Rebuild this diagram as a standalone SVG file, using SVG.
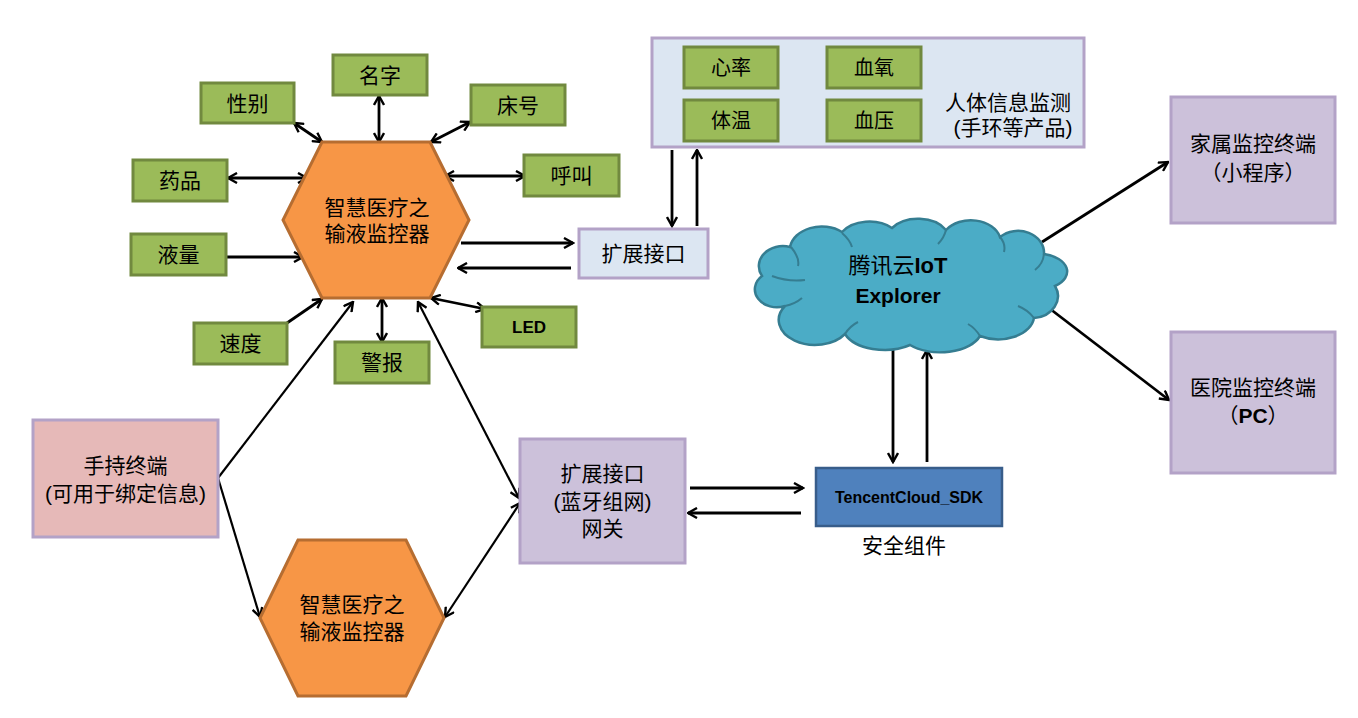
<svg xmlns="http://www.w3.org/2000/svg" width="1358" height="718" viewBox="0 0 1358 718">
<style>
text{font-family:"Liberation Sans","Noto Sans CJK SC",sans-serif;font-size:21px;fill:#000;text-anchor:middle}
.b{font-weight:bold}
.g{fill:#9BBB59;stroke:#71893F;stroke-width:3}
.hex{fill:#F79646;stroke:#B66D31;stroke-width:3}
.lb{fill:#DCE6F2;stroke:#B3A2C7;stroke-width:3}
.pu{fill:#CCC1DA;stroke:#B3A2C7;stroke-width:3}
.pk{fill:#E6B9B8;stroke:#B3A2C7;stroke-width:3}
.sdk{fill:#4F81BD;stroke:#385D8A;stroke-width:2.5}
.cl{fill:#4BACC6;stroke:#357D91;stroke-width:2.5}
.c{fill:none;stroke:#000;stroke-width:2.8}
.t{stroke-width:2.2}
</style>
<defs>
<marker id="ah" viewBox="0 0 12 12" refX="10.5" refY="6" markerWidth="12" markerHeight="12" markerUnits="userSpaceOnUse" orient="auto-start-reverse">
<path d="M1.5,1 L10.5,6 L1.5,11" fill="none" stroke="#000" stroke-width="2.4"/>
</marker>
</defs>

<g id="connectors">
<line class="c" x1="294" y1="123" x2="322" y2="142" marker-start="url(#ah)" marker-end="url(#ah)"/>
<line class="c" x1="379" y1="96" x2="379" y2="142" marker-start="url(#ah)" marker-end="url(#ah)"/>
<line class="c" x1="470" y1="122" x2="431" y2="142" marker-start="url(#ah)" marker-end="url(#ah)"/>
<line class="c" x1="228" y1="178" x2="307" y2="178" marker-start="url(#ah)" marker-end="url(#ah)"/>
<line class="c" x1="445" y1="176" x2="525" y2="176" marker-start="url(#ah)" marker-end="url(#ah)"/>
<line class="c" x1="223" y1="257" x2="303" y2="257" marker-end="url(#ah)"/>
<line class="c" x1="287" y1="323" x2="322" y2="299" marker-end="url(#ah)"/>
<line class="c" x1="382" y1="298" x2="382" y2="342" marker-start="url(#ah)" marker-end="url(#ah)"/>
<line class="c" x1="431" y1="298" x2="485" y2="309" marker-start="url(#ah)" marker-end="url(#ah)"/>
<line class="c" x1="461" y1="243" x2="573" y2="243" marker-end="url(#ah)"/>
<line class="c" x1="571" y1="268" x2="458" y2="268" marker-end="url(#ah)"/>
<line class="c" x1="672" y1="150" x2="672" y2="226" marker-end="url(#ah)"/>
<line class="c" x1="697" y1="226" x2="697" y2="150" marker-end="url(#ah)"/>
<line class="c t" x1="218" y1="478" x2="353" y2="302" marker-end="url(#ah)"/>
<line class="c t" x1="218" y1="478" x2="260" y2="617" marker-end="url(#ah)"/>
<line class="c t" x1="418" y1="302" x2="519" y2="498" marker-start="url(#ah)" marker-end="url(#ah)"/>
<line class="c t" x1="520" y1="503" x2="445" y2="617" marker-start="url(#ah)" marker-end="url(#ah)"/>
<line class="c" x1="690" y1="488" x2="803" y2="488" marker-end="url(#ah)"/>
<line class="c" x1="801" y1="513" x2="688" y2="513" marker-end="url(#ah)"/>
<line class="c" x1="893" y1="348" x2="893" y2="462" marker-end="url(#ah)"/>
<line class="c" x1="927" y1="462" x2="927" y2="350" marker-end="url(#ah)"/>
<line class="c" x1="1042" y1="242" x2="1168" y2="162" marker-end="url(#ah)"/>
<line class="c" x1="1045" y1="305" x2="1169" y2="400" marker-end="url(#ah)"/>
</g>

<g id="hex-top">
<polygon class="hex" points="322,142 430,142 469,220 430,298 322,298 283,220"/>
<text x="377" y="215">智慧医疗之</text>
<text x="377" y="241">输液监控器</text>
</g>
<g id="n-xingbie"><rect class="g" x="201" y="83" width="93" height="40"/><text x="247.5" y="110.5">性别</text></g>
<g id="n-mingzi"><rect class="g" x="333" y="55" width="94" height="40"/><text x="380" y="82.5">名字</text></g>
<g id="n-chuanghao"><rect class="g" x="471" y="85" width="94" height="40"/><text x="518" y="112.5">床号</text></g>
<g id="n-yaopin"><rect class="g" x="133" y="160" width="94" height="41"/><text x="180" y="188">药品</text></g>
<g id="n-hujiao"><rect class="g" x="524" y="155" width="95" height="41"/><text x="571.5" y="183">呼叫</text></g>
<g id="n-yeliang"><rect class="g" x="131" y="234" width="95" height="41"/><text x="178.5" y="262">液量</text></g>
<g id="n-sudu"><rect class="g" x="194" y="323" width="93" height="41"/><text x="240.5" y="351">速度</text></g>
<g id="n-jingbao"><rect class="g" x="335" y="342" width="94" height="41"/><text x="382" y="370">警报</text></g>
<g id="n-led"><rect class="g" x="482" y="307" width="94" height="40"/><text class="b" x="529" y="333" style="font-size:17px">LED</text></g>

<g id="n-ext-top"><rect class="lb" x="579" y="229" width="129" height="49"/><text x="643.5" y="261">扩展接口</text></g>

<g id="n-body">
<rect class="lb" x="652" y="38" width="432" height="109"/>
<rect class="g" x="684" y="47" width="94" height="41"/><text x="731" y="75" style="font-size:20px">心率</text>
<rect class="g" x="684" y="100" width="94" height="41"/><text x="731" y="128" style="font-size:20px">体温</text>
<rect class="g" x="827" y="47" width="94" height="41"/><text x="874" y="75" style="font-size:20px">血氧</text>
<rect class="g" x="827" y="100" width="94" height="41"/><text x="874" y="128" style="font-size:20px">血压</text>
<text x="1008" y="110">人体信息监测</text>
<text x="1013" y="135">(手环等产品)</text>
</g>

<g id="n-cloud">
<path class="cl" d="M785,306 A22,18 0 0 1 762,276 A24,20 0 0 1 790,247 A32,24 0 0 1 842,232 A32,22 0 0 1 892,228 A32,22 0 0 1 946,230 A30,22 0 0 1 1000,237 A26,22 0 0 1 1044,254 A30,18 0 0 1 1055,286 A26,22 0 0 1 1034,318 A36,24 0 0 1 980,336 A42,24 0 0 1 910,345 A42,24 0 0 1 845,334 A32,22 0 0 1 785,306 Z"/>
<path d="M772,276 Q788,282 805,280 M791,247 Q800,258 798,266 M842,233 Q850,240 852,247 M946,230 Q944,238 938,244 M1000,237 Q1006,244 1004,252 M1044,254 Q1043,264 1035,270 M1034,318 Q1028,310 1018,306 M980,336 Q975,328 968,324 M845,334 Q850,326 858,322 M785,306 Q795,304 802,298" fill="none" stroke="#357D91" stroke-width="2"/>
<text x="898" y="273" style="font-size:22px"><tspan>腾讯云</tspan><tspan class="b">IoT</tspan></text>
<text class="b" x="898" y="303" style="font-size:21px">Explorer</text>
</g>

<g id="n-family"><rect class="pu" x="1171" y="97" width="164" height="126"/><text x="1253" y="151">家属监控终端</text><text x="1253" y="180">（小程序）</text></g>
<g id="n-hospital"><rect class="pu" x="1171" y="332" width="164" height="141"/><text x="1253" y="395">医院监控终端</text><text x="1253" y="423">（<tspan class="b">PC</tspan>）</text></g>

<g id="n-handheld"><rect class="pk" x="33" y="420" width="185" height="117"/><text x="125.5" y="473">手持终端</text><text x="125.5" y="501">(可用于绑定信息)</text></g>

<g id="n-gateway"><rect class="pu" x="520" y="439" width="165" height="124"/><text x="602.5" y="481">扩展接口</text><text x="602.5" y="509">(蓝牙组网)</text><text x="602.5" y="536">网关</text></g>

<g id="n-sdk"><rect class="sdk" x="816" y="468" width="186" height="58"/><text class="b" x="909" y="503" style="font-size:16px">TencentCloud_SDK</text></g>
<text x="904" y="553">安全组件</text>

<g id="hex-bottom">
<polygon class="hex" points="298,540 406,540 444,618 406,696 298,696 260,618"/>
<text x="352" y="612">智慧医疗之</text>
<text x="352" y="639">输液监控器</text>
</g>
</svg>
